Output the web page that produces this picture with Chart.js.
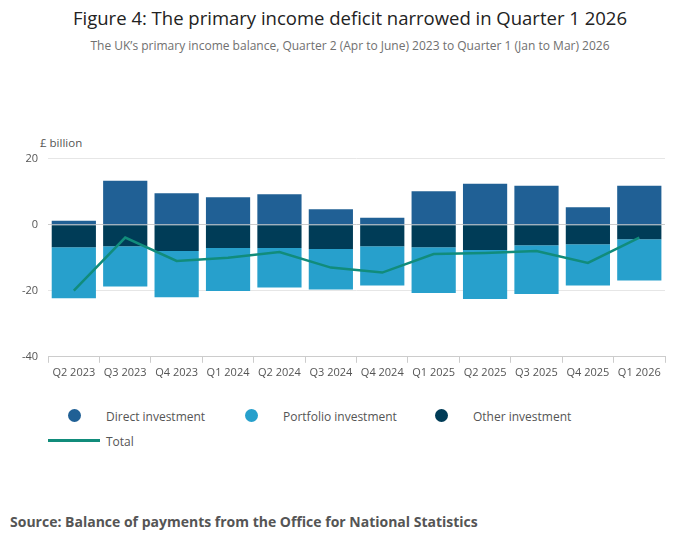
<!DOCTYPE html>
<html><head><meta charset="utf-8">
<script src="https://cdn.jsdelivr.net/npm/chart.js@4"></script>
<style>
body{margin:0;width:700px;height:549px;background:#fff;font-family:"Open Sans",sans-serif;position:relative;overflow:hidden}
#t{position:absolute;top:5px;left:0;width:700px;text-align:center;font-size:18.5px;color:#222}
#s{position:absolute;top:37px;left:0;width:700px;text-align:center;font-size:12px;color:#707070}
#unit{position:absolute;top:135px;left:40px;font-size:11.5px;color:#555}
#wrap{position:absolute;left:0;top:142px;width:680px;height:240px}
.lg{position:absolute;font-size:12px;color:#555}
.dot{position:absolute;width:13px;height:13px;border-radius:50%}
#src{position:absolute;top:512px;left:10px;font-size:14px;font-weight:bold;color:#555}
</style></head><body>
<div id="t">Figure 4: The primary income deficit narrowed in Quarter 1 2026</div>
<div id="s">The UK’s primary income balance, Quarter 2 (Apr to June) 2023 to Quarter 1 (Jan to Mar) 2026</div>
<div id="unit">£ billion</div>
<div id="wrap"><canvas id="c" width="680" height="240"></canvas></div>
<div class="dot" style="left:68px;top:409px;background:#206095"></div><div class="lg" style="left:106px;top:408px">Direct investment</div>
<div class="dot" style="left:245px;top:409px;background:#27a0cc"></div><div class="lg" style="left:283px;top:408px">Portfolio investment</div>
<div class="dot" style="left:435px;top:409px;background:#003c57"></div><div class="lg" style="left:473px;top:408px">Other investment</div>
<div style="position:absolute;left:48px;top:439px;width:52px;height:3px;background:#118c7b"></div><div class="lg" style="left:106px;top:433px">Total</div>
<div id="src">Source: Balance of payments from the Office for National Statistics</div>
<script>
const categories=["Q2 2023","Q3 2023","Q4 2023","Q1 2024","Q2 2024","Q3 2024","Q4 2024","Q1 2025","Q2 2025","Q3 2025","Q4 2025","Q1 2026"];
const direct=[1.2,13.3,9.5,8.3,9.2,4.7,2.1,10.1,12.4,11.8,5.3,11.8];
const portfolio=[-15.5,-12.2,-14,-13,-11.9,-12.2,-11.9,-13.9,-14.8,-14.8,-12.5,-12.5];
const other=[-6.8,-6.5,-8,-7.1,-7.1,-7.4,-6.5,-6.8,-7.7,-6.2,-5.9,-4.4];
const total=[-20,-3.9,-11,-10,-8.3,-13,-14.5,-8.9,-8.6,-8,-11.6,-3.9];
new Chart(document.getElementById('c'),{
data:{labels:categories,datasets:[
{type:'line',label:'Total',data:total,borderColor:'#118c7b',borderWidth:2.5,pointRadius:0,tension:0,order:0},
{type:'bar',label:'Direct investment',data:direct,backgroundColor:'#206095',order:1,barPercentage:0.86,categoryPercentage:1},
{type:'bar',label:'Other investment',data:other,backgroundColor:'#003c57',order:1,barPercentage:0.86,categoryPercentage:1},
{type:'bar',label:'Portfolio investment',data:portfolio,backgroundColor:'#27a0cc',order:1,barPercentage:0.86,categoryPercentage:1}
]},
options:{responsive:false,animation:false,maintainAspectRatio:false,
layout:{padding:{left:12,right:15,top:2}},
plugins:{legend:{display:false},tooltip:{enabled:false}},
scales:{
x:{stacked:true,grid:{display:true,drawOnChartArea:false,color:'#ccc',tickLength:6},border:{color:'#ccc'},ticks:{color:'#555',font:{family:'Open Sans',size:11},maxRotation:0,autoSkip:false}},
y:{stacked:true,min:-40,max:20,ticks:{stepSize:20,color:'#555',padding:10,font:{family:'Open Sans',size:11}},grid:{color:c=>c.tick.value===0?'#ccc':'#e6e6e6',drawTicks:false},border:{display:false}}
}}});
</script>
</body></html>
